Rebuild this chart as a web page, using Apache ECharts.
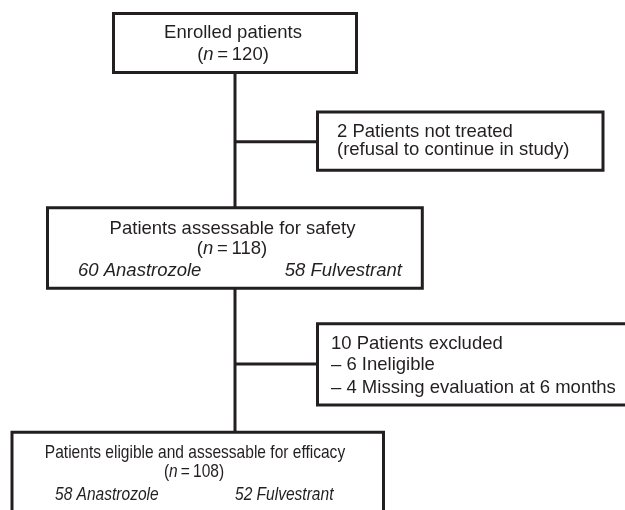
<!DOCTYPE html>
<html><head><meta charset="utf-8">
<script src="https://cdn.jsdelivr.net/npm/echarts@6/dist/echarts.min.js"></script>
<style>html,body{margin:0;padding:0;background:#fff}#c{width:625px;height:510px}</style>
</head><body><div id="c"></div>
<script>
// Flowchart boxes in chart units: [left, top, right, bottom]
const boxes = [
  [113.5, 13.5, 356.5, 72.5],
  [317.5, 112, 603, 170.3],
  [47.5, 207.7, 422.3, 288.3],
  [317.5, 323.7, 640, 405],
  [12, 432.3, 383.5, 530]
];
// Connector segments: [x0, y0, x1, y1]
const connectors = [
  [235, 72.5, 235, 432.3],
  [235, 141.7, 317.5, 141.7],
  [235, 364, 317.5, 364]
];
const labelTexts = [
  'Enrolled patients', '(n=120)',
  '2 Patients not treated', '(refusal to continue in study)',
  'Patients assessable for safety', '(n=118)', '60 Anastrozole', '58 Fulvestrant',
  '10 Patients excluded', '\u2013 6 Ineligible', '\u2013 4 Missing evaluation at 6 months',
  'Patients eligible and assessable for efficacy', '(n=108)', '58 Anastrozole', '52 Fulvestrant'
];
// Baseline anchor of each label: [x, y]
const labelAnchors = [
  [233, 39.5], [233, 61],
  [337, 138.5], [337, 156.5],
  [232.5, 235], [232, 255], [78, 277.7], [402, 277.7],
  [331, 350], [331, 371], [331, 394],
  [195, 459.3], [194, 478], [55, 501.7], [235, 501.7]
];
const labelAlign = ['center','center','left','left','center','center','left','right','left','left','left','center','center','left','left'];
const labelItalic = [0,0,0,0,0,0,1,1,0,0,0,0,0,1,1];
const labelSize = 18.5;
const labelScaleX = [1,1,1,1,1,1,1,1,1,1,1,0.84,0.84,0.84,0.84];

const INK = '#231f20';
const FONT = '"Liberation Sans", Arial, Helvetica, sans-serif';
function toRich(s) { return s.replace('(n=', '({i|n}\u2009=\u2009'); }

const chart = echarts.init(document.getElementById('c'), null, {renderer: 'canvas'});
chart.setOption({
  animation: false,
  backgroundColor: '#ffffff',
  grid: {left: 0, right: 0, top: 0, bottom: 0},
  xAxis: {type: 'value', min: 0, max: 625, show: false},
  yAxis: {type: 'value', min: 0, max: 510, inverse: true, show: false},
  series: [
    {
      type: 'custom', name: 'connectors', clip: false, z: 1,
      data: connectors,
      renderItem: function (params, api) {
        const p0 = api.coord([api.value(0), api.value(1)]);
        const p1 = api.coord([api.value(2), api.value(3)]);
        return {type: 'line', shape: {x1: p0[0], y1: p0[1], x2: p1[0], y2: p1[1]},
                style: {stroke: INK, lineWidth: 3}};
      }
    },
    {
      type: 'custom', name: 'boxes', clip: false, z: 2,
      data: boxes,
      renderItem: function (params, api) {
        const p0 = api.coord([api.value(0), api.value(1)]);
        const p1 = api.coord([api.value(2), api.value(3)]);
        return {type: 'rect',
                shape: {x: Math.min(p0[0], p1[0]), y: Math.min(p0[1], p1[1]),
                        width: Math.abs(p1[0] - p0[0]), height: Math.abs(p1[1] - p0[1])},
                style: {fill: '#ffffff', stroke: INK, lineWidth: 3}};
      }
    },
    {
      type: 'custom', name: 'labels', clip: false, z: 3,
      data: labelAnchors.map(function (a, i) { return [a[0], a[1], i]; }),
      renderItem: function (params, api) {
        const i = api.value(2);
        const p = api.coord([api.value(0), api.value(1)]);
        const size = labelSize;
        return {type: 'text', x: p[0], y: p[1] - 0.35 * size, scaleX: labelScaleX[i],
                style: {text: toRich(labelTexts[i]), fill: INK, fontFamily: FONT, fontSize: size,
                        fontStyle: labelItalic[i] ? 'italic' : 'normal',
                        align: labelAlign[i], verticalAlign: 'middle',
                        rich: {i: {fontStyle: 'italic', fontFamily: FONT, fontSize: size, fill: INK}}}};
      }
    }
  ]
});
</script></body></html>
